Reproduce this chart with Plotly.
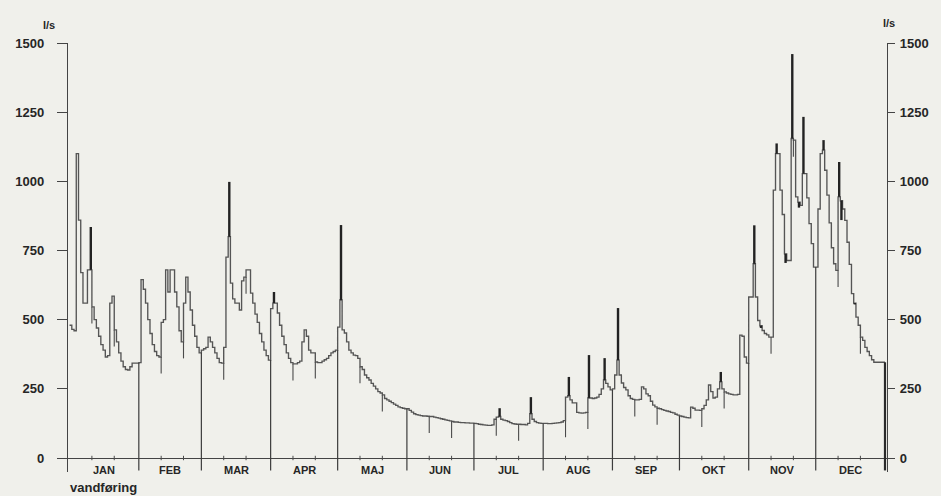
import plotly.graph_objects as go

# Monthly layout of the hydrological year
months = ["JAN", "FEB", "MAR", "APR", "MAJ", "JUN", "JUL", "AUG", "SEP", "OKT", "NOV", "DEC"]
month_days = [31, 28, 31, 30, 31, 30, 31, 31, 30, 31, 30, 31]

# Daily mean discharge (l/s), one list per month
jan = [480, 465, 460, 1100, 860, 670, 560, 560, 680, 680, 546, 500, 470, 440, 410, 390,
       365, 370, 560, 585, 463, 420, 380, 350, 330, 320, 318, 330, 343, 343, 343]
feb = [345, 645, 610, 560, 500, 450, 410, 385, 370, 365, 490, 500, 680, 600, 680, 680,
       600, 546, 460, 420, 560, 654, 600, 535, 480, 440, 400, 380]
mar = [390, 395, 400, 437, 420, 400, 380, 360, 345, 343, 400, 726, 800, 632, 575, 560,
       560, 535, 640, 654, 680, 680, 596, 560, 520, 490, 450, 420, 390, 370, 354]
apr = [540, 560, 560, 524, 480, 440, 410, 380, 360, 345, 340, 340, 345, 350, 420, 463,
       440, 390, 380, 380, 347, 345, 345, 350, 355, 360, 370, 380, 385, 390]
maj = [473, 571, 463, 452, 420, 390, 380, 372, 370, 360, 330, 320, 300, 290, 282, 270,
       260, 250, 240, 235, 228, 215, 210, 205, 200, 195, 190, 185, 182, 180, 178]
jun = [178, 172, 166, 160, 157, 155, 153, 152, 152, 151, 150, 150, 148, 146, 144, 142,
       140, 138, 136, 134, 132, 130, 130, 129, 128, 128, 127, 127, 126, 126]
jul = [125, 124, 122, 121, 120, 119, 118, 118, 120, 140, 148, 150, 140, 137, 135, 132,
       128, 124, 123, 122, 122, 121, 121, 120, 125, 160, 140, 132, 128, 126, 125]
aug = [125, 125, 124, 124, 125, 126, 127, 128, 130, 135, 220, 225, 210, 199, 199, 165,
       163, 162, 163, 165, 217, 217, 215, 217, 220, 230, 250, 282, 270, 257, 246]
sep = [250, 300, 354, 300, 271, 255, 246, 225, 215, 212, 210, 210, 212, 257, 250, 232,
       225, 205, 191, 185, 180, 178, 175, 172, 170, 168, 165, 163, 158, 155]
okt = [152, 150, 148, 146, 145, 184, 180, 173, 173, 172, 178, 190, 210, 264, 240, 217,
       220, 250, 275, 250, 239, 235, 232, 230, 228, 228, 230, 444, 440, 365, 343]
nov = [582, 582, 702, 582, 497, 478, 461, 450, 445, 437, 437, 968, 1100, 1100, 968, 880,
       738, 714, 714, 1155, 1149, 944, 925, 913, 1028, 1028, 940, 847, 775, 690]
dec = [690, 900, 1100, 1113, 1040, 950, 850, 760, 702, 678, 944, 930, 900, 859, 780, 700,
       594, 560, 509, 480, 437, 425, 400, 385, 370, 355, 346, 346, 346, 346, 346]

# Instantaneous extremes (day of year, l/s)
peak_day = [9, 71, 91, 121, 192, 206, 223, 232, 239, 245, 291,
            306, 309, 316, 320, 323, 326, 328, 337, 344, 345, 351]
peak_flow = [835, 998, 600, 842, 180, 220, 293, 372, 361, 542, 311,
             841, 470, 1137, 705, 1460, 905, 1233, 1149, 1070, 860, 555]

y_ticks = [0, 250, 500, 750, 1000, 1250, 1500]
unit = "l/s"
x_title = "vandføring"

flow = jan + feb + mar + apr + maj + jun + jul + aug + sep + okt + nov + dec
n_days = len(flow)

month_start = [sum(month_days[:i]) for i in range(len(month_days))]
month_mid = [s + d / 2 for s, d in zip(month_start, month_days)]

CURVE = "#555555"
BG = "#f0f0eb"
FONT = "Liberation Sans"
TXT = "#262626"

fig = go.Figure()

# daily discharge as a stepped line
fig.add_trace(go.Scatter(
    x=list(range(n_days + 1)), y=flow + [flow[-1]],
    mode="lines", line=dict(color=CURVE, width=1.35, shape="hv"),
    hoverinfo="skip", showlegend=False))

# month separators, from just below the axis up to the curve
sx, sy = [], []
for s in month_start[1:]:
    sx += [s, s, None]
    sy += [-45, min(flow[s - 1], flow[s]), None]
fig.add_trace(go.Scatter(x=sx, y=sy, mode="lines",
                         line=dict(color="#3c3c3c", width=1.2),
                         hoverinfo="skip", showlegend=False))
fig.add_trace(go.Scatter(x=[n_days, n_days], y=[-45, flow[-1]], mode="lines",
                         line=dict(color="#2a2a2a", width=2.2),
                         hoverinfo="skip", showlegend=False))

# 10-day marks on the curve and on the axis
dx, dy, tx, ty = [], [], [], []
for s in month_start:
    for off in (10, 20):
        d = s + off
        v = min(flow[d - 1], flow[d])
        dx += [d, d, None]
        dy += [v, v - 60, None]
        tx += [d, d, None]
        ty += [-8, 8, None]
fig.add_trace(go.Scatter(x=dx, y=dy, mode="lines",
                         line=dict(color="#4a4a4a", width=1.1),
                         hoverinfo="skip", showlegend=False))
fig.add_trace(go.Scatter(x=tx, y=ty, mode="lines",
                         line=dict(color="#4a4a4a", width=1.0),
                         hoverinfo="skip", showlegend=False))

# peak spikes drawn from the daily value to the extreme
px_, py_ = [], []
for d, p in zip(peak_day, peak_flow):
    px_ += [d + 0.5, d + 0.5, None]
    py_ += [flow[d], p, None]
fig.add_trace(go.Scatter(x=px_, y=py_, mode="lines",
                         line=dict(color="#222222", width=2.4),
                         hoverinfo="skip", showlegend=False))

# carrier for the right-hand axis
fig.add_trace(go.Scatter(x=[None], y=[None], yaxis="y2", mode="lines",
                         hoverinfo="skip", showlegend=False))

y_range = [-50.6, 1500]
tick_font = dict(family=FONT, size=13, color=TXT, weight="bold")
axis_common = dict(range=y_range, tickvals=y_ticks, ticktext=[str(t) for t in y_ticks],
                   ticks="outside", tickcolor="#444", tickwidth=1.2,
                   showline=True, linecolor="#444", linewidth=1.3,
                   showgrid=False, tickfont=tick_font, fixedrange=True)

annotations = [
    dict(x=m, y=-43, xref="x", yref="y", text=lab, showarrow=False,
         font=dict(family=FONT, size=11, color=TXT, weight="bold"),
         xanchor="center", yanchor="middle")
    for m, lab in zip(month_mid, months)
]
annotations += [
    dict(x=0, y=-0.036, xref="paper", yref="paper", text=x_title, showarrow=False,
         font=dict(family=FONT, size=13, color=TXT, weight="bold"),
         xanchor="left", yanchor="middle"),
    dict(x=-0.023, y=1.042, xref="paper", yref="paper", text=unit, showarrow=False,
         font=dict(family=FONT, size=11, color=TXT, weight="bold"),
         xanchor="center", yanchor="middle"),
    dict(x=1.002, y=1.047, xref="paper", yref="paper", text=unit, showarrow=False,
         font=dict(family=FONT, size=11, color=TXT, weight="bold"),
         xanchor="center", yanchor="middle"),
]

fig.update_layout(
    width=941, height=496,
    margin=dict(l=68, r=48, t=43, b=24),
    paper_bgcolor=BG, plot_bgcolor=BG,
    xaxis=dict(range=[-0.7, 365.9], showticklabels=False, showgrid=False,
               zeroline=False, showline=False, ticks="", fixedrange=True),
    yaxis=dict(**axis_common, side="left", ticklen=10, ticklabelstandoff=10,
               zeroline=True, zerolinecolor="#444", zerolinewidth=1.3),
    yaxis2=dict(**axis_common, side="right", overlaying="y", ticklen=7,
                ticklabelstandoff=2, zeroline=False),
    annotations=annotations,
    showlegend=False,
)

fig.write_html("out.html")
